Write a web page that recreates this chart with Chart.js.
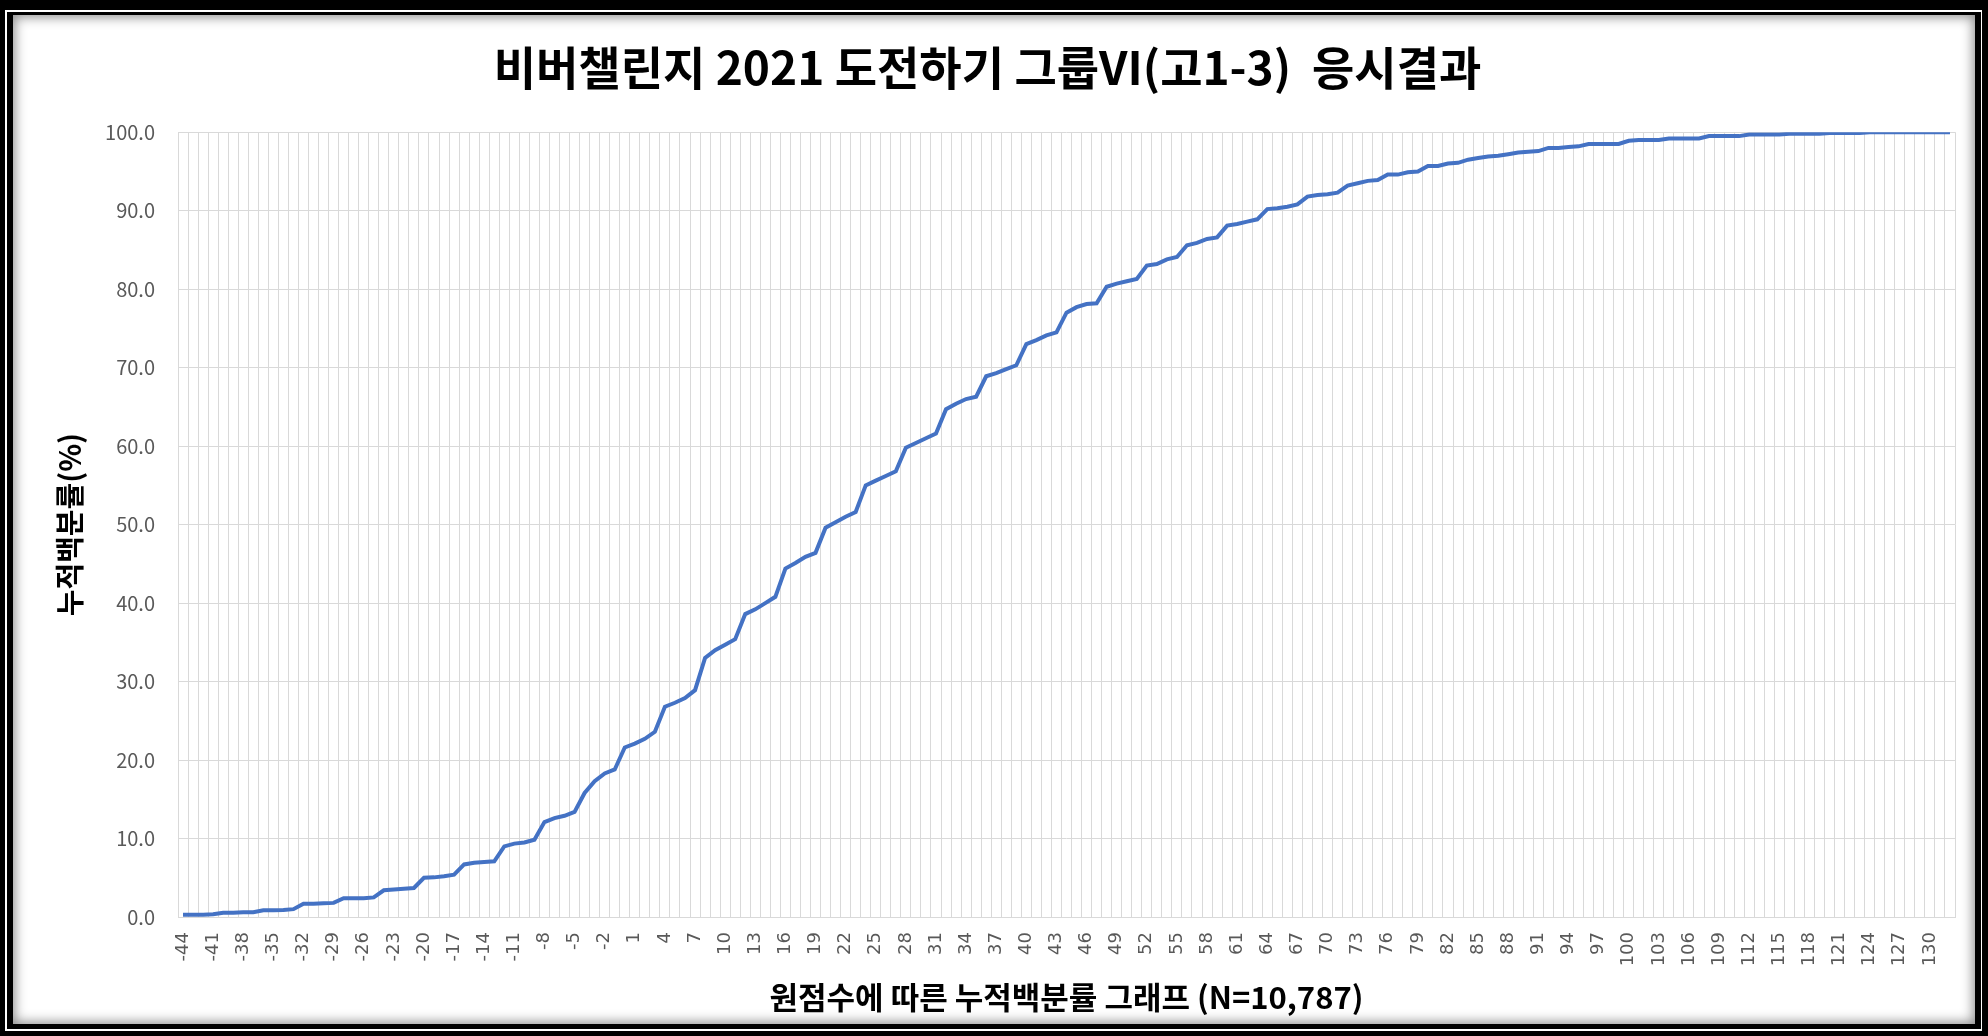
<!DOCTYPE html>
<html>
<head>
<meta charset="utf-8">
<script src="https://cdn.jsdelivr.net/npm/chart.js@4.4.1/dist/chart.umd.min.js"></script>
<style>
  body { margin: 0; width: 1988px; height: 1036px; overflow: hidden; background: #000; position: relative; }
  .gap { position: absolute; left: 5px; top: 10px; right: 6px; bottom: 5px; background: #fff; }
  .inner { position: absolute; left: 7px; top: 12px; right: 7px; bottom: 7px; background: #fff;
           border-style: solid; border-color: #000; border-width: 3px 6px 5px 6px;
           box-shadow: inset 0 0 12px 2px rgba(0,0,0,0.45); }
  #chart { position: absolute; left: 0; top: 0; }
</style>
</head>
<body>
<div class="gap"></div>
<div class="inner"></div>
<canvas id="chart" width="1988" height="1036"></canvas>
<script>
// 원점수 (x categories)
const scores = [
  -44, -43, -42, -41, -40, -39, -38, -37, -36, -35, -34, -33, -32, -31, -30, -29, -28, -27, -26, -25,
  -24, -23, -22, -21, -20, -19, -18, -17, -16, -15, -14, -13, -12, -11, -10, -9, -8, -7, -6, -5,
  -4, -3, -2, -1, 0, 1, 2, 3, 4, 5, 6, 7, 8, 9, 10, 11, 12, 13, 14, 15,
  16, 17, 18, 19, 20, 21, 22, 23, 24, 25, 26, 27, 28, 29, 30, 31, 32, 33, 34, 35,
  36, 37, 38, 39, 40, 41, 42, 43, 44, 45, 46, 47, 48, 49, 50, 51, 52, 53, 54, 55,
  56, 57, 58, 59, 60, 61, 62, 63, 64, 65, 66, 67, 68, 69, 70, 71, 72, 73, 74, 75,
  76, 77, 78, 79, 80, 81, 82, 83, 84, 85, 86, 87, 88, 89, 90, 91, 92, 93, 94, 95,
  96, 97, 98, 99, 100, 101, 102, 103, 104, 105, 106, 107, 108, 109, 110, 111, 112, 113, 114, 115,
  116, 117, 118, 119, 120, 121, 122, 123, 124, 125, 126, 127, 128, 129, 130, 131, 132
];

// 누적백분률 (%)
const cumPct = [
  0.3, 0.3, 0.3, 0.35, 0.55, 0.55, 0.6, 0.6, 0.85, 0.85, 0.9, 1.0,
  1.7, 1.7, 1.75, 1.8, 2.4, 2.4, 2.4, 2.5, 3.4, 3.5, 3.6, 3.7,
  5.0, 5.05, 5.2, 5.4, 6.7, 6.9, 7.0, 7.1, 9.0, 9.35, 9.5, 9.85,
  12.1, 12.6, 12.9, 13.4, 15.8, 17.3, 18.3, 18.8, 21.6, 22.1, 22.7, 23.6,
  26.8, 27.3, 27.9, 28.9, 33.0, 34.0, 34.7, 35.4, 38.6, 39.2, 40.0, 40.8,
  44.4, 45.1, 45.9, 46.4, 49.6, 50.3, 51.0, 51.6, 55.0, 55.6, 56.2, 56.8,
  59.8, 60.4, 61.0, 61.6, 64.7, 65.4, 66.0, 66.3, 68.9, 69.3, 69.8, 70.3,
  73.0, 73.5, 74.1, 74.5, 77.0, 77.7, 78.1, 78.2, 80.3, 80.7, 81.0, 81.3,
  83.0, 83.2, 83.8, 84.1, 85.6, 85.9, 86.4, 86.6, 88.1, 88.3, 88.6, 88.9,
  90.2, 90.3, 90.5, 90.8, 91.8, 92.0, 92.1, 92.3, 93.2, 93.5, 93.8, 93.9,
  94.6, 94.6, 94.9, 95.0, 95.7, 95.7, 96.0, 96.1, 96.5, 96.7, 96.9, 97.0,
  97.2, 97.4, 97.5, 97.6, 98.0, 98.0, 98.1, 98.2, 98.5, 98.5, 98.5, 98.5,
  98.9, 99.0, 99.0, 99.0, 99.2, 99.2, 99.2, 99.2, 99.5, 99.5, 99.5, 99.5,
  99.7, 99.7, 99.7, 99.7, 99.8, 99.8, 99.8, 99.8, 99.9, 99.9, 99.9, 99.9,
  100, 100, 100, 100, 100, 100, 100, 100, 100
];

// axis settings
const labelStep = 3;          // x label shown every 3rd score
const yMin = 0, yMax = 100, yStep = 10;

const KR = '"Noto Sans CJK KR", "Noto Sans", sans-serif';

new Chart(document.getElementById('chart'), {
  type: 'line',
  data: {
    labels: scores,
    datasets: [{
      data: cumPct,
      borderColor: '#4472C4',
      borderWidth: 4,
      pointRadius: 0,
      tension: 0,
      fill: false
    }]
  },
  options: {
    responsive: false,
    animation: false,
    layout: { padding: { left: 20, right: 33, top: 8, bottom: 0 } },
    plugins: {
      legend: { display: false },
      tooltip: { enabled: false },
      title: {
        display: true,
        text: '비버챌린지 2021 도전하기 그룹VI(고1-3)  응시결과',
        color: '#000',
        font: { family: KR, size: 46, weight: 'bold' },
        padding: { top: 32, bottom: 37 }
      }
    },
    scales: {
      x: {
        offset: true,
        grid: { offset: true, color: '#d9d9d9', drawTicks: false },
        border: { color: '#d9d9d9' },
        ticks: {
          autoSkip: false,
          minRotation: 90,
          maxRotation: 90,
          padding: 15,
          color: '#595959',
          font: { family: '"DejaVu Sans", sans-serif', size: 18 },
          callback: function (v, i) { return i % labelStep === 0 ? String(scores[i]) : ''; }
        },
        title: {
          display: true,
          text: '원점수에 따른 누적백분률 그래프 (N=10,787)',
          color: '#000',
          font: { family: KR, size: 31, weight: 'bold' },
          padding: { top: 0, bottom: 20 }
        },
        afterFit: function (s) { s.height = 119; }
      },
      y: {
        min: yMin,
        max: yMax,
        grid: { color: '#d9d9d9', drawTicks: false },
        border: { display: false },
        ticks: {
          stepSize: yStep,
          padding: 23,
          color: '#595959',
          font: { family: KR, size: 20 },
          callback: function (v) { return v.toFixed(1); }
        },
        title: {
          display: true,
          text: '누적백분률(%)',
          color: '#000',
          font: { family: KR, size: 29, weight: 'bold' },
          padding: { top: 33, bottom: 0 }
        },
        afterFit: function (s) { s.width = 158; }
      }
    }
  }
});
</script>
</body>
</html>
